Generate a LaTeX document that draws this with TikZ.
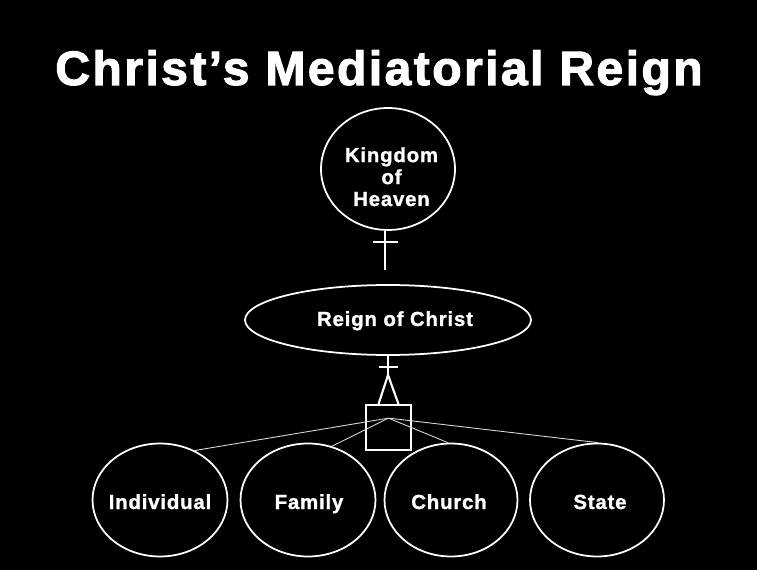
\documentclass[tikz,border=0pt]{standalone}
\usepackage{fontspec}
\setmainfont{Liberation Sans}
\usetikzlibrary{shapes.geometric}

\begin{document}
\begin{tikzpicture}[x=0.02cm, y=-0.02cm, white, line width=1pt,
  bubble/.style={draw, ellipse, inner sep=0pt},
  caption/.style={align=center, inner sep=0pt, anchor=base,
    font=\fontsize{11.6}{12.5}\selectfont\bfseries\addfontfeature{LetterSpace=4,FakeBold=1.2}},
  fan/.style={line width=0.5pt, white!85!black}]
  % background
  \fill[black] (0,0) rectangle (757,570);
  \useasboundingbox (0,0) rectangle (757,570);
  % title
  \node[anchor=base, inner sep=0pt,
    font=\fontsize{27.4}{32}\selectfont\bfseries\addfontfeature{LetterSpace=5,FakeBold=2.2}]
    (title) at (379,85) {Christ’s Mediatorial Reign};
  % Kingdom of Heaven
  \node[bubble, minimum width=2.68cm, minimum height=2.44cm] (kh) at (388,169) {};
  \node[caption] (khtext) at (391.5,206) {Kingdom\\of\\Heaven};
  % Reign of Christ
  \node[bubble, minimum width=5.72cm, minimum height=1.4cm] (rc) at (388,320) {};
  \node[caption] (rctext) at (395,326) {Reign of Christ};
  % cross between the two
  \coordinate (khbar) at ([yshift=-0.22cm]kh.south);
  \draw[line width=1.2pt] ([xshift=-0.06cm]kh.south) -- ([xshift=-0.06cm,yshift=0.28cm]rc.north);
  \draw[line width=1.2pt] ([xshift=-0.3cm]khbar) -- ([xshift=0.2cm]khbar);
  % box under the reign
  \node[draw, minimum size=0.9cm, inner sep=0pt] (hub) at (388.5,427.5) {};
  \coordinate (apex) at (388,375);
  \draw[line width=1.2pt] (rc.south) -- (apex);
  \draw[line width=1.2pt] (379,367) -- (398,367);
  \draw[line width=1.2pt] ([xshift=-0.2cm]hub.north) -- (apex) -- ([xshift=0.2cm]hub.north);
  % the four spheres
  \node[bubble, minimum width=2.7cm, minimum height=2.26cm] (ind) at (160,500) {};
  \node[bubble, minimum width=2.7cm, minimum height=2.26cm] (fam) at (308,500) {};
  \node[bubble, minimum width=2.66cm, minimum height=2.26cm] (chu) at (451,500) {};
  \node[bubble, minimum width=2.68cm, minimum height=2.26cm] (sta) at (597,500) {};
  \node[caption] (indtext) at (160,509) {Individual};
  \node[caption] (famtext) at (309,509) {Family};
  \node[caption] (chutext) at (449,509) {Church};
  \node[caption] (statext) at (600,509) {State};
  % fan from the box
  \coordinate (fork) at ([yshift=-0.28cm]hub.north);
  \draw[fan] (fork) -- (ind.55);
  \draw[fan] (fork) -- (fam.66);
  \draw[fan] (fork) -- (chu.93);
  \draw[fan] (fork) -- (sta.89);
\end{tikzpicture}
\end{document}
